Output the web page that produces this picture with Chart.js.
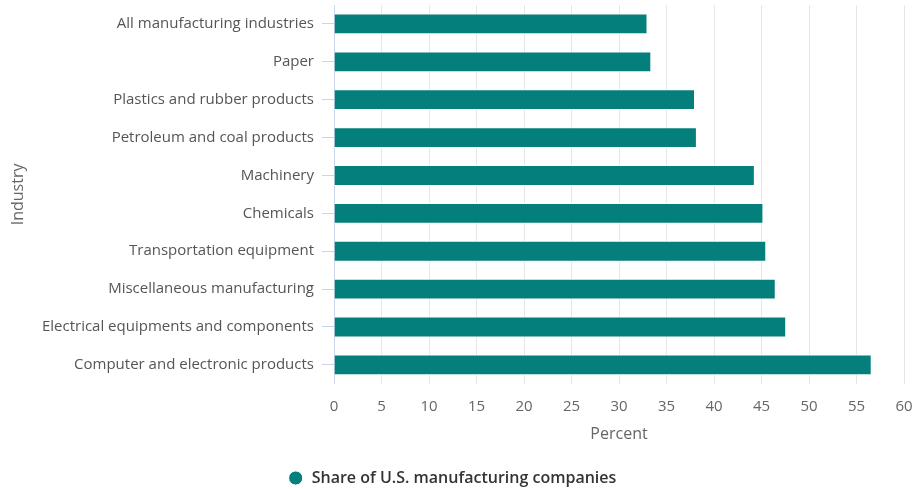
<!DOCTYPE html>
<html>
<head>
<meta charset="utf-8">
<script src="https://cdn.jsdelivr.net/npm/chart.js@4/dist/chart.umd.min.js"></script>
<style>
  html, body { margin: 0; padding: 0; background: #fff; }
  #wrap { width: 912px; height: 489px; position: relative; }
</style>
</head>
<body>
<div id="wrap"><canvas id="chart"></canvas></div>
<script>
// Share of U.S. manufacturing companies, by industry (percent)
const industries = [
  'All manufacturing industries',
  'Paper',
  'Plastics and rubber products',
  'Petroleum and coal products',
  'Machinery',
  'Chemicals',
  'Transportation equipment',
  'Miscellaneous manufacturing',
  'Electrical equipments and components',
  'Computer and electronic products',
];
const shares = [33.0, 33.4, 38.0, 38.2, 44.3, 45.2, 45.5, 46.5, 47.6, 56.6];
const seriesName = 'Share of U.S. manufacturing companies';
const xTicks = [0, 5, 10, 15, 20, 25, 30, 35, 40, 45, 50, 55, 60];

const barColor = '#047f7b';
const fontFamily = "'Open Sans', 'Noto Sans', sans-serif";

new Chart(document.getElementById('chart').getContext('2d'), {
  type: 'bar',
  data: {
    labels: industries,
    datasets: [
      {
        label: seriesName,
        data: shares,
        backgroundColor: barColor,
        borderColor: '#ffffff',
        borderWidth: 1,
        barPercentage: 0.55,
        categoryPercentage: 1,
      },
    ],
  },
  options: {
    indexAxis: 'y',
    responsive: true,
    maintainAspectRatio: false,
    animation: false,
    layout: {
      // legend sits a bit lower than chart.js would put it
      padding: { top: 5, right: 8, left: 0, bottom: -7 },
    },
    plugins: {
      tooltip: { enabled: false },
      legend: {
        position: 'bottom',
        labels: {
          usePointStyle: true,
          pointStyle: 'circle',
          boxWidth: 16,
          boxHeight: 10,
          padding: 0,
          color: '#333333',
          font: { family: fontFamily, size: 16, weight: '600' },
        },
      },
    },
    scales: {
      x: {
        type: 'linear',
        min: 0,
        max: 60,
        afterBuildTicks: function (axis) {
          axis.ticks = xTicks.map((v) => ({ value: v }));
        },
        afterFit: function (axis) {
          axis.paddingLeft = 0;
          axis.paddingRight = 0;
        },
        grid: {
          color: '#e6e6e6',
          drawTicks: false,
        },
        border: { display: false },
        ticks: {
          padding: 14,
          color: '#666666',
          font: { family: fontFamily, size: 15 },
        },
        title: {
          display: true,
          text: 'Percent',
          color: '#666666',
          font: { family: fontFamily, size: 16 },
          padding: { top: -5, bottom: 26 },
        },
      },
      y: {
        type: 'category',
        afterFit: function (axis) {
          axis.width = 334;
          axis.paddingTop = 0;
          axis.paddingBottom = 0;
        },
        grid: {
          offset: false,
          drawOnChartArea: false,
          drawTicks: true,
          tickLength: 12,
          color: '#ccd6eb',
        },
        border: { display: true, color: '#ccd6eb', width: 1 },
        ticks: {
          padding: 8,
          color: '#555555',
          font: { family: fontFamily, size: 15 },
        },
        title: {
          display: true,
          text: 'Industry',
          color: '#666666',
          font: { family: fontFamily, size: 16 },
          padding: { top: 9, bottom: 0 },
        },
      },
    },
  },
});
</script>
</body>
</html>
